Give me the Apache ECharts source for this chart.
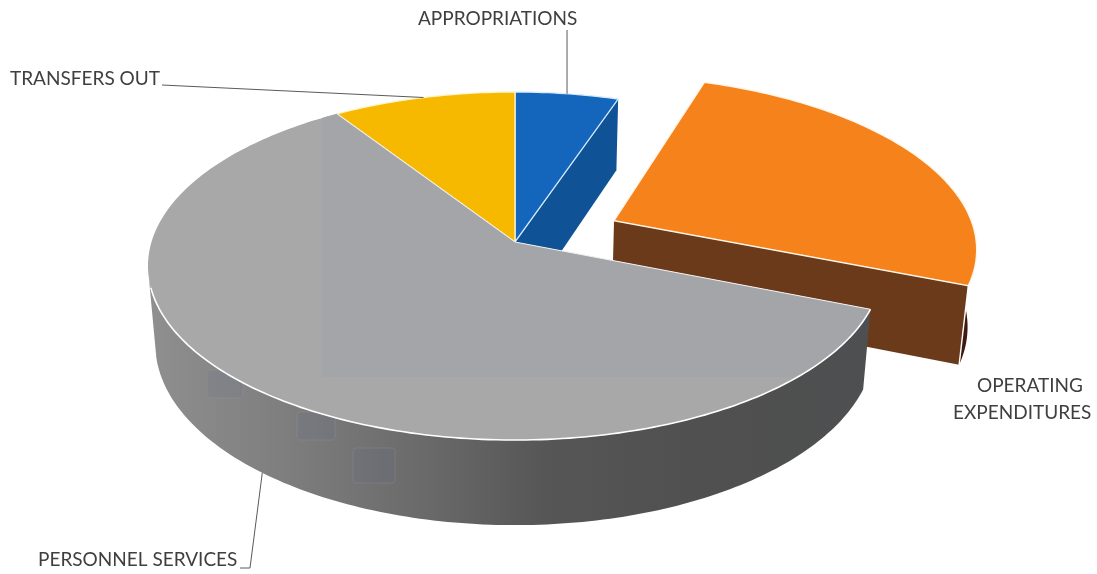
<!DOCTYPE html>
<html>
<head>
<meta charset="utf-8">
<style>html,body{margin:0;padding:0;background:#fff}#chart{width:1097px;height:574px}</style>
<script src="https://cdn.jsdelivr.net/npm/echarts@6/dist/echarts.min.js"></script>
</head>
<body>
<div id="chart"></div>
<script>
// Budget shares, clockwise from twelve o'clock
const categories = ['APPROPRIATIONS', 'OPERATING EXPENDITURES', 'PERSONNEL SERVICES', 'TRANSFERS OUT'];
const shares = [5.2, 25.9, 59.7, 9.2];
const explodedBy = [0, 0.305, 0, 0];
const topColors = ['#1466bc', '#f5821a', '#a8a8a8', '#f7b900'];
const wallColors = ['#0f5396', '#6a3a1b', '#6a6a6a', '#a88000'];

// Perspective camera for the tilted disc
const view = { cx: 515, cy: 242, sx: 363.5, sy: 170.7, drop: 79, k: 0.138, m: 0.02 };
const LABEL_FONT = '19px Lato, sans-serif';
const LABEL_COLOR = '#3f3f3f';
const LEADER_COLOR = '#5a5a5a';

const total = shares.reduce((a, b) => a + b, 0);
let running = 0;
const slices = shares.map((s, i) => {
  const start = running / total * 360;
  running += s;
  const end = running / total * 360;
  const mid = (start + end) / 2 * Math.PI / 180;
  return { start, end, mid: (start + end) / 2, ox: explodedBy[i] * Math.sin(mid), oy: explodedBy[i] * Math.cos(mid) };
});

function renderItem(params, api) {
  const i = params.dataIndex;
  const sl = slices[i];
  const project = (deg, r, z) => {
    const t = deg * Math.PI / 180;
    const X = r * Math.sin(t) + sl.ox, Y = r * Math.cos(t) + sl.oy;
    const w = 1 + view.k * Y + view.m * z;
    return api.coord([view.cx + view.sx * X / w, view.cy + (-view.sy * Y + view.drop * z) / w]);
  };
  const arc = (from, to, z) => {
    const pts = [];
    const n = Math.max(2, Math.ceil(Math.abs(to - from)));
    for (let j = 0; j <= n; j++) pts.push(project(from + (to - from) * j / n, 1, z));
    return pts;
  };
  const apexTop = project(0, 0, 0), apexBottom = project(0, 0, 1);
  const poly = (points, style, z2, extra) => Object.assign({ type: 'polygon', shape: { points }, style, z2 }, extra || {});
  const line = (points, stroke, lineWidth, z2) => ({ type: 'polyline', shape: { points }, style: { fill: null, stroke, lineWidth }, z2 });
  const text = (str, x, y, z2) => {
    const p = api.coord([x, y]);
    return { type: 'text', x: p[0], y: p[1], style: { text: str, font: LABEL_FONT, fill: LABEL_COLOR, align: 'left', verticalAlign: 'middle' }, z2 };
  };
  const topFace = [apexTop].concat(arc(sl.start, sl.end, 0));
  const children = [];

  if (i === 0) {
    // Cut wall of the blue wedge, seen past its right edge
    const r1 = project(sl.end, 1, 0), b1 = project(sl.end, 1, 1);
    children.push(poly([apexTop, r1, b1, apexBottom], { fill: wallColors[i] }, 30));
    children.push(poly(topFace, { fill: topColors[i], stroke: '#d8ecff', lineWidth: 1.3 }, 31));
    const a = project(sl.mid, 1, 0);
    children.push(line([a, api.coord([a[0], 30])], LEADER_COLOR, 1, 60));
    children.push(text(categories[i], 418, 19, 60));
  } else if (i === 1) {
    // Pulled-out orange wedge: dark outer wall, cut wall, then top
    const r1 = project(sl.end, 1, 0), b1 = project(sl.end, 1, 1);
    const outer = arc(70, sl.end, 0).concat(arc(sl.end, 70, 1));
    children.push(poly(outer, { fill: '#3f1a12' }, 10));
    children.push(poly([apexTop, r1, b1, apexBottom], { fill: wallColors[i] }, 11));
    children.push(line([r1, b1], '#ffffff', 1.4, 12));
    children.push(poly(topFace, { fill: topColors[i], stroke: '#fff6ea', lineWidth: 1.4 }, 13));
    const parts = categories[i].split(' ');
    children.push(text(parts[0], 977, 386, 60));
    children.push(text(parts[1], 953, 413, 60));
  } else if (i === 2) {
    // Grey wedge sits in front of everything else
    const wallEnd = 258;
    const wall = arc(sl.start, wallEnd, 0).concat(arc(wallEnd, sl.start, 1));
    children.push(poly(wall, {
      fill: {
        type: 'linear', x: 1, y: 0, x2: 0, y2: 0,
        colorStops: [
          { offset: 0, color: '#4e4f50' }, { offset: 0.25, color: '#505050' },
          { offset: 0.45, color: '#565656' }, { offset: 0.62, color: '#6a6a6a' },
          { offset: 0.82, color: '#7f7f7f' }, { offset: 1, color: '#8f8f8f' }
        ]
      }
    }, 40));
    // Faint printed squares over the wall
    [[207, 370, 36, 28], [297, 412, 38, 28], [353, 448, 42, 35]].forEach(r => {
      const p = api.coord([r[0], r[1]]);
      children.push({
        type: 'rect', shape: { x: p[0], y: p[1], width: r[2], height: r[3], r: 3 },
        style: { fill: 'rgba(88,96,150,0.09)', stroke: 'rgba(170,170,175,0.2)', lineWidth: 1 }, z2: 41
      });
    });
    children.push(poly(topFace, { fill: topColors[i] }, 50));
    // Slightly cooler tone across the upper right of the top face
    const c0 = api.coord([322, 0]), c1 = api.coord([1097, 377]);
    children.push(poly(topFace, { fill: '#a4a5a9' }, 51, {
      clipPath: { type: 'rect', shape: { x: c0[0], y: c0[1], width: c1[0] - c0[0], height: c1[1] - c0[1] } }
    }));
    children.push(line([project(sl.end, 1, 0), apexTop, project(sl.start, 1, 0)], '#f2f2f2', 1, 52));
    children.push(line(arc(sl.start, 255, 0), '#ffffff', 1.6, 52));
    const a = project(sl.mid, 1, 1);
    const e = api.coord([250, 568]);
    children.push(line([a, e, api.coord([240, 568])], LEADER_COLOR, 1, 60));
    children.push(text(categories[i], 38, 560, 60));
  } else {
    children.push(poly(topFace, { fill: topColors[i], stroke: '#fff4cc', lineWidth: 1.3 }, 32));
    const a = project(sl.mid, 1, 0);
    children.push(line([a, api.coord([162, 85])], LEADER_COLOR, 1, 60));
    children.push(text(categories[i], 10, 79, 60));
  }
  return { type: 'group', children };
}

const chart = echarts.init(document.getElementById('chart'), null, { renderer: 'canvas' });
chart.setOption({
  animation: false,
  backgroundColor: '#ffffff',
  grid: { left: 0, right: 0, top: 0, bottom: 0 },
  xAxis: { type: 'value', min: 0, max: 1097, show: false },
  yAxis: { type: 'value', min: 0, max: 574, inverse: true, show: false },
  series: [{
    type: 'custom',
    clip: false,
    renderItem,
    encode: { x: 0, y: 1 },
    data: shares.map((s, i) => [i, s])
  }]
});
</script>
</body>
</html>
